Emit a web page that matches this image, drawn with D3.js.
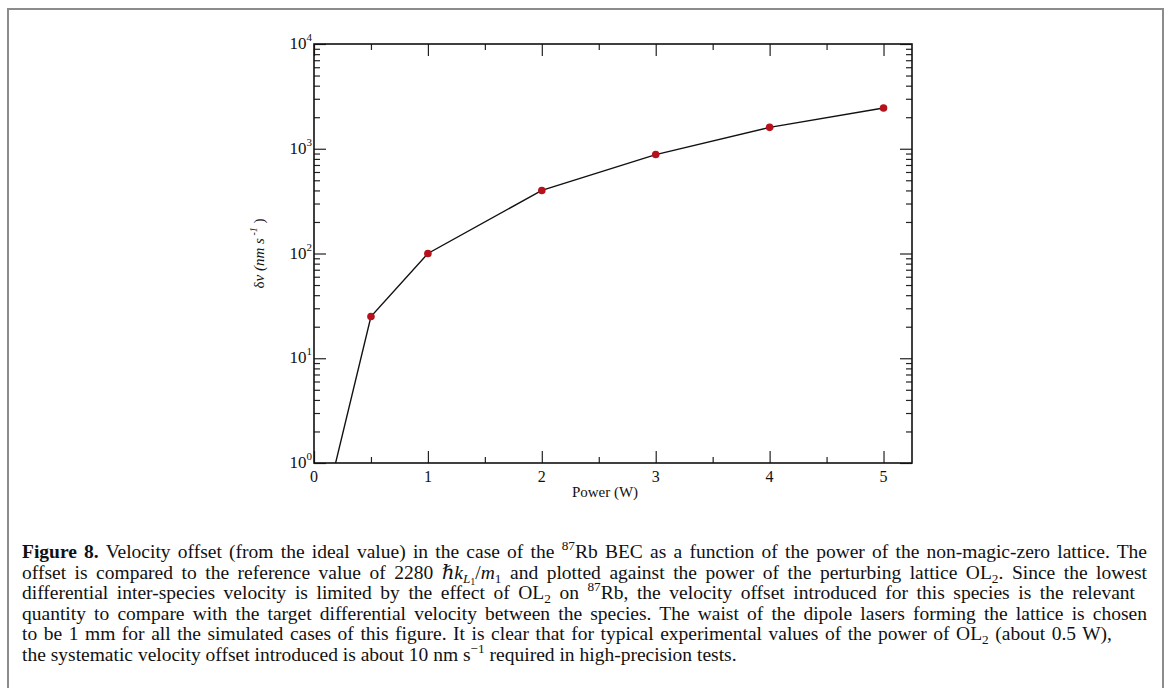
<!DOCTYPE html>
<html>
<head>
<meta charset="utf-8">
<script src="https://cdn.jsdelivr.net/npm/d3@7"></script>
<style>
  html, body { margin: 0; padding: 0; background: #fff; }
  svg { display: block; }
  text { font-family: "Liberation Serif", "DejaVu Serif", serif; fill: #111; }
</style>
</head>
<body>
<svg id="fig" width="1168" height="688"></svg>
<script>
// Velocity offset vs. lattice power (log scale)
const power = [0, 0.5, 1, 2, 3, 4, 5];
const deltaV = [0.14, 25, 100, 400, 880, 1600, 2450];

const xMajorTicks = [0, 1, 2, 3, 4, 5];
const xMinorTicks = [0.5, 1.5, 2.5, 3.5, 4.5];
const yDecades = [1, 10, 100, 1000, 10000];
const yExponents = ["0", "1", "2", "3", "4"];

const xTitle = "Power (W)";

// Caption, one array per printed line: [text, style]
const captionLines = [
  [["Figure 8.", "b"], [" Velocity offset (from the ideal value) in the case of the ", "n"], ["87", "sup"], ["Rb BEC as a function of the power of the non-magic-zero lattice. The", "n"]],
  [["offset is compared to the reference value of 2280 ", "n"], ["ℏk", "i"], ["L", "isub"], ["1", "subsub"], ["/", "n"], ["m", "i"], ["1", "sub"], [" and plotted against the power of the perturbing lattice OL", "n"], ["2", "sub"], [". Since the lowest", "n"]],
  [["differential inter-species velocity is limited by the effect of OL", "n"], ["2", "sub"], [" on ", "n"], ["87", "sup"], ["Rb, the velocity offset introduced for this species is the relevant", "n"]],
  [["quantity to compare with the target differential velocity between the species. The waist of the dipole lasers forming the lattice is chosen", "n"]],
  [["to be 1 mm for all the simulated cases of this figure. It is clear that for typical experimental values of the power of OL", "n"], ["2", "sub"], [" (about 0.5 W),", "n"]],
  [["the systematic velocity offset introduced is about 10 nm s", "n"], ["−1", "sup"], [" required in high-precision tests.", "n"]]
];
// Right edge each line is set to (null = left aligned, natural spacing)
const captionRight = [1147, 1147, 1135, 1147, 1112, null];

const svg = d3.select("#fig");

// Page frame
svg.append("path")
  .attr("d", "M8,700 L8,9 L1163,9 L1163,700")
  .attr("fill", "none")
  .attr("stroke", "#8c8c8c")
  .attr("stroke-width", 2);

const plot = { left: 314, right: 912, top: 44, bottom: 463 };

const x = d3.scaleLinear().domain([0, 5.25]).range([plot.left, plot.right]);
const y = d3.scaleLog().domain([1, 10000]).range([plot.bottom, plot.top]);

const majorLen = 12, minorLen = 6;
const tickColor = "#222";

function styleAxis(g) {
  g.select(".domain").remove();
  g.selectAll(".tick line").attr("stroke", tickColor).attr("stroke-width", 1.2);
  g.selectAll(".tick text").remove();
}

// Bottom / top x ticks (inward)
svg.append("g").attr("transform", `translate(0,${plot.bottom})`)
  .call(d3.axisBottom(x).tickValues(xMajorTicks).tickSize(-majorLen)).call(styleAxis);
svg.append("g").attr("transform", `translate(0,${plot.bottom})`)
  .call(d3.axisBottom(x).tickValues(xMinorTicks).tickSize(-minorLen)).call(styleAxis);
svg.append("g").attr("transform", `translate(0,${plot.top})`)
  .call(d3.axisTop(x).tickValues(xMajorTicks).tickSize(-majorLen)).call(styleAxis);
svg.append("g").attr("transform", `translate(0,${plot.top})`)
  .call(d3.axisTop(x).tickValues(xMinorTicks).tickSize(-minorLen)).call(styleAxis);

// Left / right y ticks (inward)
const yMinor = y.ticks().filter(v => !yDecades.includes(v));
svg.append("g").attr("transform", `translate(${plot.left},0)`)
  .call(d3.axisLeft(y).tickValues(yDecades).tickSize(-majorLen)).call(styleAxis);
svg.append("g").attr("transform", `translate(${plot.left},0)`)
  .call(d3.axisLeft(y).tickValues(yMinor).tickSize(-minorLen)).call(styleAxis);
svg.append("g").attr("transform", `translate(${plot.right},0)`)
  .call(d3.axisRight(y).tickValues(yDecades).tickSize(-majorLen)).call(styleAxis);
svg.append("g").attr("transform", `translate(${plot.right},0)`)
  .call(d3.axisRight(y).tickValues(yMinor).tickSize(-minorLen)).call(styleAxis);

// Plot frame
svg.append("rect")
  .attr("x", plot.left).attr("y", plot.top)
  .attr("width", plot.right - plot.left).attr("height", plot.bottom - plot.top)
  .attr("fill", "none").attr("stroke", "#111").attr("stroke-width", 1.6);

// X tick labels
svg.append("g").selectAll("text").data(xMajorTicks).join("text")
  .attr("x", d => x(d)).attr("y", plot.bottom + 19)
  .attr("text-anchor", "middle").attr("font-size", 16)
  .text(d => d);

// Y tick labels: 10^n
const yl = svg.append("g").selectAll("text").data(yDecades).join("text")
  .attr("x", plot.left - 2).attr("y", d => y(d) + 5)
  .attr("text-anchor", "end").attr("font-size", 17);
yl.append("tspan").text("10");
yl.append("tspan").attr("font-size", 11).attr("dy", -8).text((d, i) => yExponents[i]);

// Axis titles
svg.append("text")
  .attr("x", 605).attr("y", plot.bottom + 34)
  .attr("text-anchor", "middle").attr("font-size", 15)
  .text(xTitle);

const yt = svg.append("text")
  .attr("transform", `translate(264,${(plot.top + plot.bottom) / 2}) rotate(-90)`)
  .attr("text-anchor", "middle").attr("font-size", 15)
  .style("white-space", "pre");
yt.append("tspan").text("δ");
yt.append("tspan").attr("font-style", "italic").text("v (nm s");
yt.append("tspan").attr("font-style", "italic").attr("font-size", 10).attr("dy", -7).text(" -1");
yt.append("tspan").attr("dy", 7).text(" )");

// Data line and markers, clipped to the plot area
svg.append("clipPath").attr("id", "plotClip")
  .append("rect").attr("x", plot.left).attr("y", plot.top)
  .attr("width", plot.right - plot.left).attr("height", plot.bottom - plot.top);

const pts = power.map((p, i) => [p, deltaV[i]]);
const clipped = svg.append("g").attr("clip-path", "url(#plotClip)");
clipped.append("path")
  .datum(pts)
  .attr("fill", "none").attr("stroke", "#111").attr("stroke-width", 1.4)
  .attr("d", d3.line().x(d => x(d[0])).y(d => y(d[1])));
clipped.selectAll("circle").data(pts).join("circle")
  .attr("cx", d => x(d[0])).attr("cy", d => y(d[1])).attr("r", 3.8)
  .attr("fill", "#b5121b");

// Caption lines, spread to their right edges
const capLeft = 22, capTop = 558, capLead = 20.5, capSize = 19.5;
captionLines.forEach((segs, li) => {
  const t = svg.append("text")
    .attr("x", capLeft).attr("y", capTop + li * capLead)
    .attr("font-size", capSize)
    .style("white-space", "pre");
  let shift = 0;
  segs.forEach(([txt, st]) => {
    const s = t.append("tspan").text(txt);
    let target = 0;
    if (st === "b") s.attr("font-weight", "bold");
    if (st === "i") s.attr("font-style", "italic");
    if (st === "sup") { s.attr("font-size", capSize * 0.68); target = -8; }
    if (st === "sub") { s.attr("font-size", capSize * 0.68); target = 4; }
    if (st === "isub") { s.attr("font-size", capSize * 0.68).attr("font-style", "italic"); target = 4; }
    if (st === "subsub") { s.attr("font-size", capSize * 0.52); target = 6; }
    s.attr("dy", target - shift);
    shift = target;
  });
  const right = captionRight[li];
  if (right !== null) {
    const natural = t.node().getComputedTextLength();
    const spaces = segs.map(d => d[0]).join("").split(" ").length - 1;
    const extra = (right - capLeft - natural) / spaces;
    t.style("word-spacing", `${extra}px`);
  }
});
</script>
</body>
</html>
